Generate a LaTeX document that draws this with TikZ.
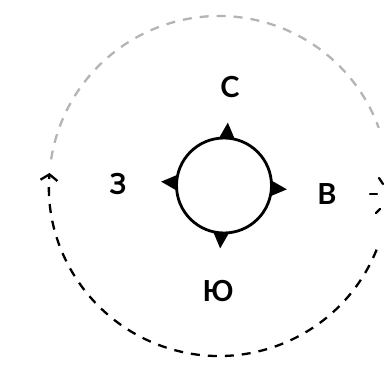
\documentclass[tikz,border=0pt]{standalone}
\usepackage{fontspec}
\setmainfont{Lato}
\usetikzlibrary{arrows.meta,calc}
\definecolor{arcgray}{HTML}{B4B4B4}
\tikzset{
  lbl/.style={font=\fontsize{29}{31}\selectfont\bfseries, inner sep=0pt},
  marker/.style={fill=black, draw=none},
  bigarc/.style={line width=2.3pt, dash pattern=on 9pt off 8pt},
}
\begin{document}
\begin{tikzpicture}[x=1pt,y=1pt]
\useasboundingbox (0,0) rectangle (385,365);
\coordinate (O) at (219,179);
\coordinate (C) at (224,179.5);
% big dashed circle
\draw[bigarc, arcgray] ($(O)+(171:170)$) arc[start angle=171, end angle=20, radius=170];
\draw[bigarc, black, -{Straight Barb[length=6pt,width=17pt,line width=2.3pt]}]
  ($(O)+(-22:170)$) arc[start angle=-22, end angle=-184.4, radius=170];
% right-side strokes
\draw[line width=2.3pt, line cap=round] (379,187) -- (383,181);
\draw[line width=2.3pt, line cap=round] (370,171) -- (377,171);
\draw[line width=2.3pt, line cap=round] (380,156) -- (376,152);
% compass markers
\foreach \a in {86.5,-3.5,-93.5,176.5}{
  \fill[marker] ($(C)+(\a:63)$) -- ($(C)+(\a+12:45)$) -- ($(C)+(\a-12:45)$) -- cycle;
}
\node[circle, draw, fill=white, line width=2.8pt, minimum size=95pt, inner sep=0pt] (ring) at (C) {};
% labels
\node[lbl] (n) at (230,278) {С};
\node[lbl] (e) at (327,171) {В};
\node[lbl] (w) at (118,181) {З};
\node[lbl] (s) at (218,74) {Ю};
\end{tikzpicture}
\end{document}
